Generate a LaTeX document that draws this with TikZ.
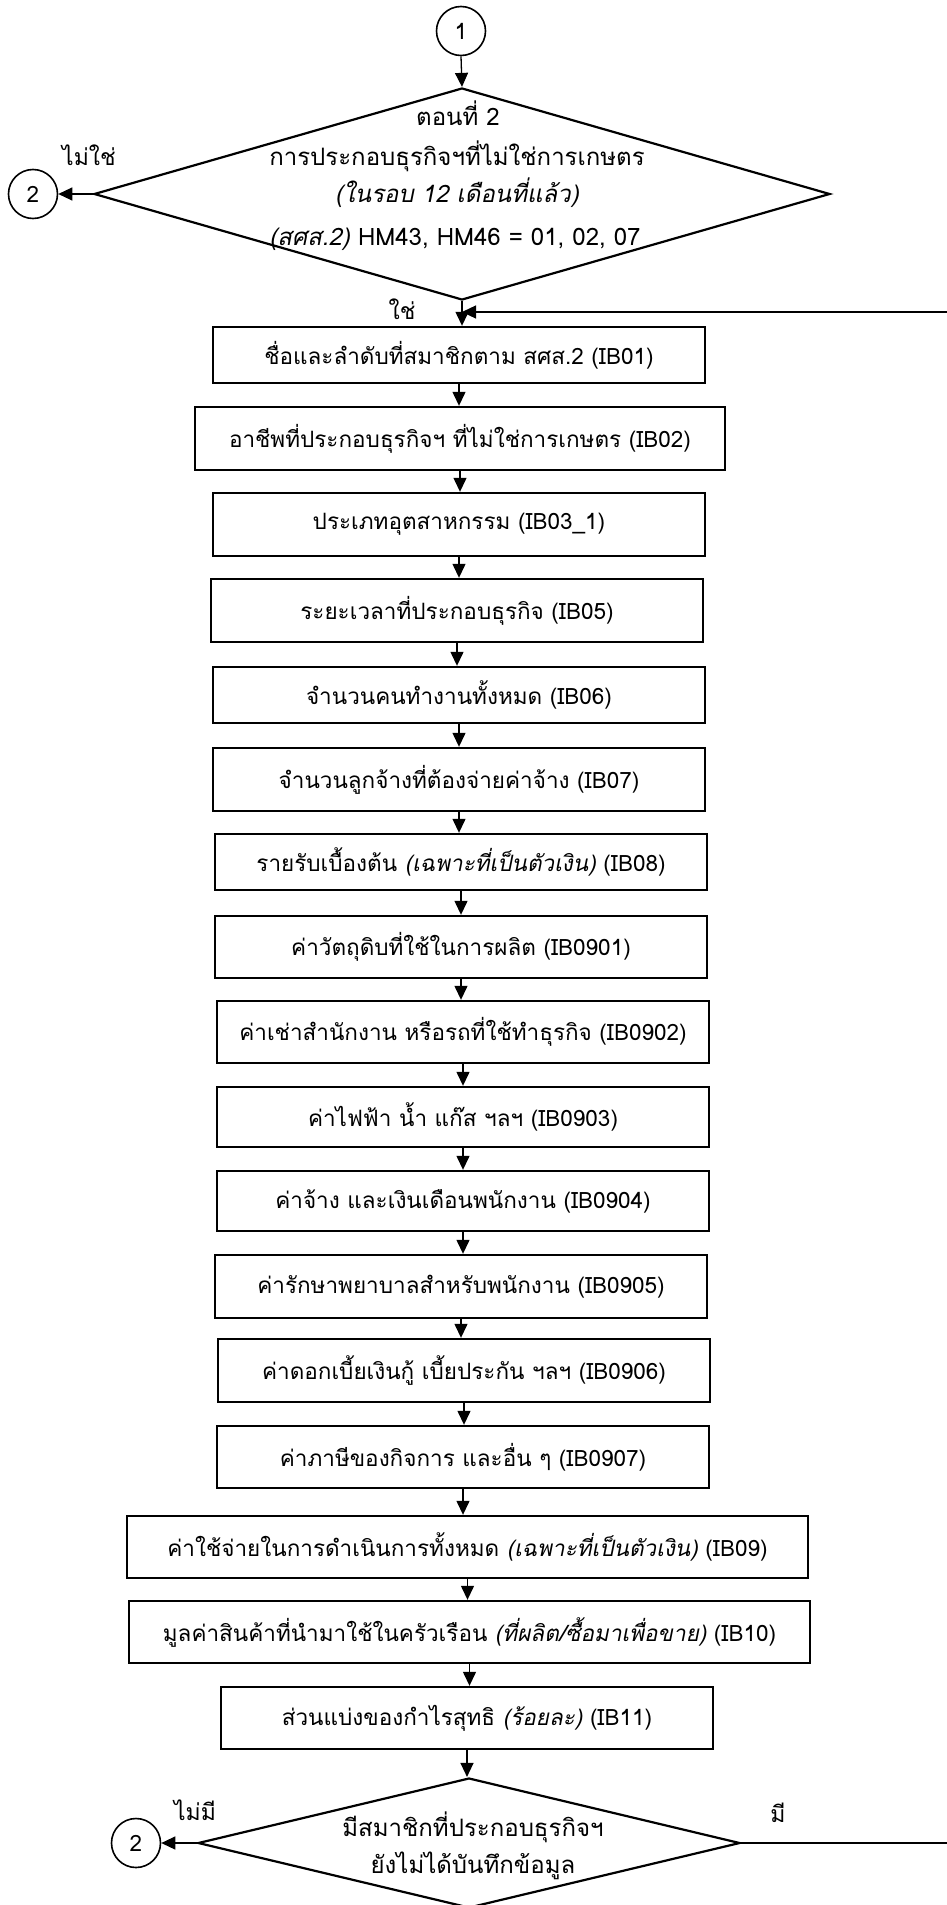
\documentclass[tikz,border=0pt]{standalone}
\usepackage{fontspec}
\setmainfont[Script=Thai,AutoFakeSlant=0.2]{Loma}
\usetikzlibrary{shapes.geometric,arrows.meta}
\begin{document}
\begin{tikzpicture}[x=1pt,y=-1pt,
  font=\fontsize{22.5}{27}\selectfont,
  boxnode/.style={draw,line width=2.4pt,rectangle,inner sep=0pt,minimum width=492pt},
  decision/.style={draw,line width=2.2pt,diamond,inner sep=0pt},
  connector/.style={draw,line width=1.6pt,circle,inner sep=0pt,minimum size=49pt},
  arr/.style={line width=1.3pt,-{Triangle[length=14pt,width=13pt]}},
  lbl/.style={inner sep=0pt},
  dtext/.style={inner sep=0pt,font=\fontsize{24}{29}\selectfont},
  ltext/.style={inner sep=0pt,font=\fontsize{23}{28}\selectfont}]
\useasboundingbox (0,0) rectangle (947,1905);
\fill[white] (0,0) rectangle (947,1905);
% connectors
\node[connector] (c1) at (461,31) {1};
\node[connector] (c2a) at (33,194) {2};
\node[connector] (c2b) at (136,1843) {2};
% decision 1
\node[decision,minimum width=736pt,minimum height=212pt] (d1) at (462,194) {};
\node[dtext] (d1t1) at (458,113) {ตอนที่ 2};
\node[dtext] (d1t2) at (457,156) {การประกอบธุรกิจฯที่ไม่ใช่การเกษตร};
\node[dtext] (d1t3) at (457,193) {\textit{(ในรอบ 12 เดือนที่แล้ว)}};
\node[dtext] (d1t4) at (455,239) {\textit{(สศส.2)} HM43, HM46 = 01, 02, 07};
% boxes
\node[boxnode,minimum height=56pt] (b1) at (459,355) {ชื่อและลำดับที่สมาชิกตาม สศส.2 (IB01)};
\node[boxnode,minimum width=530pt,minimum height=63pt] (b2) at (460,438.5) {อาชีพที่ประกอบธุรกิจฯ ที่ไม่ใช่การเกษตร (IB02)};
\node[boxnode,minimum height=63pt] (b3) at (459,524.5) {ประเภทอุตสาหกรรม (IB03\_1)};
\node[boxnode,minimum height=63pt] (b4) at (457,610.5) {ระยะเวลาที่ประกอบธุรกิจ (IB05)};
\node[boxnode,minimum height=56pt] (b5) at (459,695) {จำนวนคนทำงานทั้งหมด (IB06)};
\node[boxnode,minimum height=63pt] (b6) at (459,779.5) {จำนวนลูกจ้างที่ต้องจ่ายค่าจ้าง (IB07)};
\node[boxnode,minimum height=56pt] (b7) at (461,862) {รายรับเบื้องต้น \textit{(เฉพาะที่เป็นตัวเงิน)} (IB08)};
\node[boxnode,minimum height=62pt] (b8) at (461,947) {ค่าวัตถุดิบที่ใช้ในการผลิต (IB0901)};
\node[boxnode,minimum height=62pt] (b9) at (463,1032) {ค่าเช่าสำนักงาน หรือรถที่ใช้ทำธุรกิจ (IB0902)};
\node[boxnode,minimum height=60pt] (b10) at (463,1117) {ค่าไฟฟ้า น้ำ แก๊ส ฯลฯ (IB0903)};
\node[boxnode,minimum height=60pt] (b11) at (463,1201) {ค่าจ้าง และเงินเดือนพนักงาน (IB0904)};
\node[boxnode,minimum height=63pt] (b12) at (461,1286.5) {ค่ารักษาพยาบาลสำหรับพนักงาน (IB0905)};
\node[boxnode,minimum height=63pt] (b13) at (464,1370.5) {ค่าดอกเบี้ยเงินกู้ เบี้ยประกัน ฯลฯ (IB0906)};
\node[boxnode,minimum height=62pt] (b14) at (463,1457) {ค่าภาษีของกิจการ และอื่น ๆ (IB0907)};
\node[boxnode,minimum width=681pt,minimum height=62pt] (b15) at (467.5,1547) {ค่าใช้จ่ายในการดำเนินการทั้งหมด \textit{(เฉพาะที่เป็นตัวเงิน)} (IB09)};
\node[boxnode,minimum width=681pt,minimum height=62pt] (b16) at (469.5,1632) {มูลค่าสินค้าที่นำมาใช้ในครัวเรือน \textit{(ที่ผลิต/ซื้อมาเพื่อขาย)} (IB10)};
\node[boxnode,minimum height=62pt] (b17) at (467,1718) {ส่วนแบ่งของกำไรสุทธิ \textit{(ร้อยละ)} (IB11)};
% decision 2
\node[decision,minimum width=542pt,minimum height=130pt] (d2) at (469,1843) {};
\node[dtext] (d2t1) at (473,1827) {มีสมาชิกที่ประกอบธุรกิจฯ};
\node[dtext] (d2t2) at (473,1866) {ยังไม่ได้บันทึกข้อมูล};
% labels
\node[ltext] (lno) at (89,155) {ไม่ใช่};
\node[ltext] (lyes) at (402,309) {ใช่};
\node[ltext] (lnone) at (195,1810) {ไม่มี};
\node[ltext] (lhas) at (778,1813) {มี};
% loop coordinates
\coordinate (rb) at (949,1843);
\coordinate (rt) at (949,312);
\coordinate (jn) at (462,312);
% connectors
\draw[arr] (c1.south) -- (d1.north);
\draw[arr] (d1.west) -- (c2a.east);
\draw[arr] (d1.south) -- (d1.south |- b1.north);
\foreach \a/\b in {b1/b2,b2/b3,b3/b4,b4/b5,b5/b6,b6/b7,b7/b8,b8/b9,b9/b10,b10/b11,b11/b12,b12/b13,b13/b14,b14/b15,b15/b16,b16/b17}
  \draw[arr] (\a.south) -- (\a.south |- \b.north);
\draw[arr] (b17.south) -- (b17.south |- d2.north);
\draw[arr] (d2.west) -- (c2b.east);
\draw[arr] (d2.east) -- (rb) -- (rt) -- (jn);
\end{tikzpicture}
\end{document}
